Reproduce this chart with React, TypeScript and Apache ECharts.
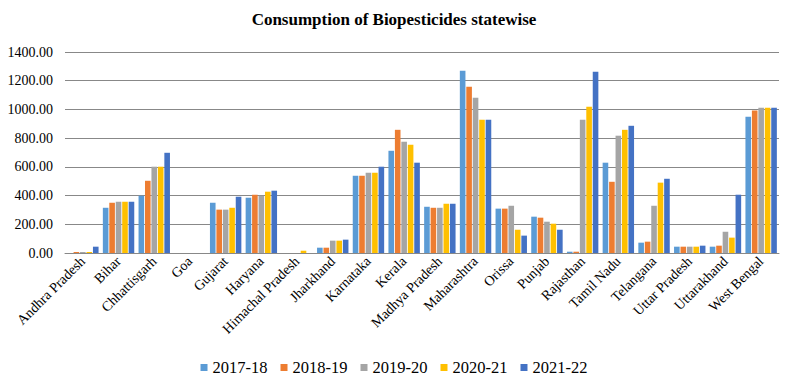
import React, { useEffect, useRef } from "react";
import * as echarts from "echarts";

const categories = [
  "Andhra Pradesh", "Bihar", "Chhattisgarh", "Goa", "Gujarat", "Haryana",
  "Himachal Pradesh", "Jharkhand", "Karnataka", "Kerala", "Madhya Pradesh",
  "Maharashtra", "Orissa", "Punjab", "Rajasthan", "Tamil Nadu", "Telangana",
  "Uttar Pradesh", "Uttarakhand", "West Bengal",
];
const seriesNames = ["2017-18", "2018-19", "2019-20", "2020-21", "2021-22"];
const colors = ["#5B9BD5", "#ED7D31", "#A5A5A5", "#FFC000", "#4472C4"];

const y2017 = [0, 315, 399, 0, 350, 385, 0, 37, 538, 712, 322, 1269, 309, 253, 9, 629, 72, 44, 44, 949];
const y2018 = [7, 350, 503, 0, 302, 406, 0, 37, 538, 858, 315, 1158, 309, 246, 9, 496, 79, 44, 51, 993];
const y2019 = [7, 357, 601, 0, 302, 399, 0, 86, 559, 775, 315, 1081, 329, 218, 928, 817, 329, 44, 148, 1012];
const y2020 = [7, 357, 601, 0, 315, 427, 16, 86, 559, 754, 343, 928, 162, 204, 1018, 858, 490, 44, 107, 1012];
const y2021 = [44, 357, 698, 0, 392, 434, 0, 93, 601, 629, 343, 928, 121, 162, 1262, 886, 517, 51, 406, 1012];
const values = [y2017, y2018, y2019, y2020, y2021];

const yTicks = { min: 0, max: 1400, interval: 200 };
const serif = "'Times New Roman', 'Liberation Serif', serif";

export default function App() {
  const ref = useRef<HTMLDivElement>(null);
  useEffect(() => {
    if (!ref.current) return;
    const chart = echarts.init(ref.current, null, { renderer: "svg" });
    chart.setOption({
      animation: false,
      textStyle: { fontFamily: serif },
      title: {
        text: "Consumption of Biopesticides statewise",
        left: "center",
        top: 6,
        textStyle: { fontFamily: serif, fontSize: 17, fontWeight: "bold", color: "#000" },
      },
      grid: { left: 65, right: 9, top: 52, bottom: 135, containLabel: false },
      legend: {
        bottom: 7,
        left: "center",
        icon: "rect",
        itemWidth: 7,
        itemHeight: 7,
        itemGap: 13,
        textStyle: { fontFamily: serif, fontSize: 16.5, color: "#000" },
        data: seriesNames,
      },
      xAxis: {
        type: "category",
        data: categories,
        axisTick: { show: false },
        axisLine: { lineStyle: { color: "#888", width: 1 } },
        axisLabel: {
          rotate: 45,
          interval: 0,
          fontFamily: serif,
          fontSize: 14,
          color: "#000",
          margin: 6,
        },
      },
      yAxis: {
        type: "value",
        min: yTicks.min,
        max: yTicks.max,
        interval: yTicks.interval,
        axisLine: { show: false },
        axisTick: { show: false },
        splitLine: { lineStyle: { color: "#888", width: 1 } },
        axisLabel: {
          fontFamily: serif,
          fontSize: 14,
          color: "#000",
          margin: 12,
          formatter: (v: number) => v.toFixed(2),
        },
      },
      series: seriesNames.map((name, i) => ({
        name,
        type: "bar",
        data: values[i],
        barCategoryGap: "12%",
        barGap: "15%",
        itemStyle: { color: colors[i] },
      })),
    });
    return () => chart.dispose();
  }, []);
  return (
    <div
      ref={ref}
      style={{ position: "fixed", left: 0, top: 0, width: 788, height: 388, background: "#fff" }}
    />
  );
}
